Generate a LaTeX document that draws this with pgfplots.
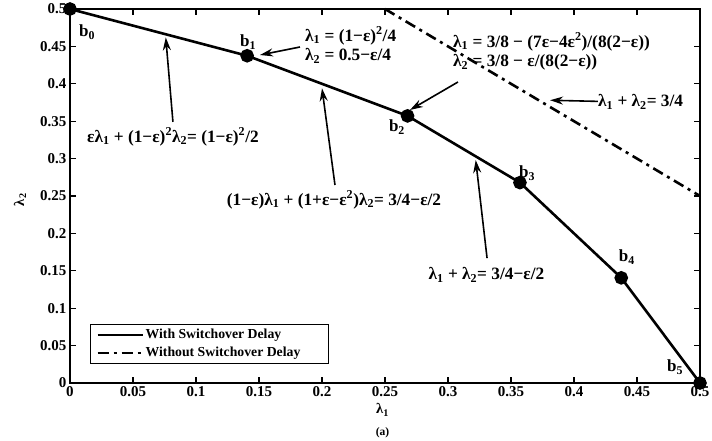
\documentclass[border=0pt]{standalone}
\usepackage{fontspec}
\setmainfont{Liberation Serif}
\usepackage{pgfplots}
\pgfplotsset{compat=1.18}
\usetikzlibrary{arrows.meta}

\newcommand{\lam}[1]{λ\textsubscript{#1}}
\newcommand{\bpt}[1]{b\textsubscript{#1}}

\begin{document}
\begin{tikzpicture}[font=\fontsize{14.5}{16}\selectfont\bfseries,
  ann/.style={-{Stealth[length=13pt,width=8pt]}, line width=1.6pt},
  eq/.style={font=\fontsize{17.3}{19.5}\selectfont\bfseries},
  vx/.style={font=\fontsize{17}{19}\selectfont\bfseries}]
\useasboundingbox (-70pt,-58pt) rectangle (642pt,383pt);
\begin{axis}[
  scale only axis, width=630pt, height=374pt,
  xmin=0, xmax=0.5, ymin=0, ymax=0.5,
  xtick={0,0.05,0.1,0.15,0.2,0.25,0.3,0.35,0.4,0.45,0.5},
  ytick={0,0.05,0.1,0.15,0.2,0.25,0.3,0.35,0.4,0.45,0.5},
  scaled ticks=false,
  /pgf/number format/fixed,
  /pgf/number format/precision=2,
  /pgf/number format/assume math mode=true,
  tick label style={font=\fontsize{15}{16}\selectfont\bfseries},
  tick align=inside, tick pos=both,
  major tick length=6pt,
  axis line style={line width=1.6pt},
  tick style={line width=1.3pt, black},
  clip=false,
  legend style={at={(axis cs:0.016,0.0254)}, anchor=south west,
    draw=black, line width=1.3pt, font=\fontsize{13.75}{16}\selectfont\bfseries,
    inner xsep=6pt, inner ysep=3pt, row sep=3pt},
  legend cell align=left,
  legend image code/.code={\draw[#1, line width=1.8pt] (0pt,0pt) -- (45pt,0pt);},
]
% capacity region boundary with switchover delay
\addplot[black, line width=2.6pt, mark=*, mark size=5.5pt,
  mark options={solid}] coordinates {
  (0,0.5) (0.1406,0.4375) (0.2679,0.3571) (0.3571,0.2679) (0.4375,0.1406) (0.5,0)};
\addlegendentry{With Switchover Delay}
% boundary without switchover delay
\addplot[black, line width=2.6pt, dash pattern=on 11pt off 5pt on 3pt off 5pt]
  coordinates {(0.25,0.5) (0.5,0.25)};
\addlegendentry{Without Switchover Delay\kern20pt\null}

% vertex labels
\node[vx] at (axis cs:0.0135,0.469) {\bpt{0}};
\node[vx] at (axis cs:0.1413,0.4559) {\bpt{1}};
\node[vx] at (axis cs:0.2595,0.3422) {\bpt{2}};
\node[vx] at (axis cs:0.3627,0.2807) {\bpt{3}};
\node[vx] at (axis cs:0.4420,0.1684) {\bpt{4}};
\node[vx] at (axis cs:0.4802,0.0214) {\bpt{5}};

% annotations
\node[eq] at (axis cs:0.0817,0.329) {ε\lam{1} + (1−ε)\textsuperscript{2}\lam{2}= (1−ε)\textsuperscript{2}/2};
\draw[ann] (axis cs:0.0817,0.349) -- (axis cs:0.076,0.462);

\node[eq, anchor=west, align=left, inner sep=0pt] at (axis cs:0.1865,0.452)
  {\lam{1} = (1−ε)\textsuperscript{2}/4\\\lam{2} = 0.5−ε/4};
\draw[ann] (axis cs:0.1825,0.4492) -- (axis cs:0.1508,0.4385);

\node[eq, anchor=west, align=left, inner sep=0pt] at (axis cs:0.304,0.4432)
  {\lam{1} = 3/8 − (7ε−4ε\textsuperscript{2})/(8(2−ε))\\\lam{2} = 3/8 − ε/(8(2−ε))};
\draw[ann] (axis cs:0.3079,0.4024) -- (axis cs:0.2698,0.365);

\node[eq, anchor=west, inner sep=0pt] at (axis cs:0.419,0.3757) {\lam{1} + \lam{2}= 3/4};
\draw[ann] (axis cs:0.419,0.3765) -- (axis cs:0.381,0.378);

\node[eq] at (axis cs:0.2095,0.2447) {(1−ε)\lam{1} + (1+ε−ε\textsuperscript{2})\lam{2}= 3/4−ε/2};
\draw[ann] (axis cs:0.2103,0.2647) -- (axis cs:0.2,0.394);

\node[eq] at (axis cs:0.3305,0.1444) {\lam{1} + \lam{2}= 3/4−ε/2};
\draw[ann] (axis cs:0.331,0.167) -- (axis cs:0.322,0.298);

% axis labels
\node[rotate=90] at (axis cs:-0.0397,0.245) {\lam{2}};
\node at (axis cs:0.248,-0.036) {\lam{1}};
\node at (axis cs:0.248,-0.0668) {\fontsize{11.5}{12}\selectfont(a)};
\end{axis}
\end{tikzpicture}
\end{document}
